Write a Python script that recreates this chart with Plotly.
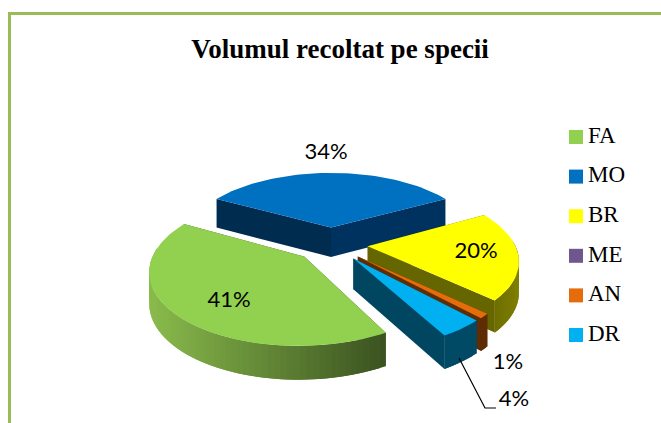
import math
import plotly.graph_objects as go

# ---- data ----
species = ["FA", "MO", "BR", "ME", "AN", "DR"]
shares = [41, 34, 20, 0, 1, 4]
title_text = "Volumul recoltat pe specii"

# ---- style ----
top_colors = {"FA": "#92D050", "MO": "#0070C0", "BR": "#FFFF00", "ME": "#70568F", "AN": "#E46C0A", "DR": "#00B0F0"}
arc_shades = {"FA": ("#3A5220", "#8ABB4C"), "MO": ("#003260", "#002C4F"), "BR": ("#7F7F00", "#666600"),
              "ME": ("#3A2A4B", "#3A2A4B"), "AN": ("#5E2D03", "#5E2D03"), "DR": ("#004A66", "#004A66")}
edge_shades = {"FA": "#3A5220", "MO": "#002C4F", "BR": "#666600", "ME": "#3A2A4B", "AN": "#5E2D03", "DR": "#004661"}
label_pos = {"MO": (326, 153), "BR": (476, 252), "FA": (229, 301), "AN": (508, 363), "DR": (514, 400)}
legend_x, legend_y0, legend_dy = 576, 137, 39.6
legend_text_x = 588

# projection of the pie
CX, CY, K, A, T, H, EXPL = 331, 244, 0.172, 147, 0.47, 0.205, 0.25
MO_CENTER = 0.0


def proj(x, y, depth=0.0):
    sa = A / (1 + K * y)
    return CX + x * sa, CY - T * y * sa + depth * math.sqrt(sa * A)


def lerp(c1, c2, f):
    a = [int(c1[i:i + 2], 16) for i in (1, 3, 5)]
    b = [int(c2[i:i + 2], 16) for i in (1, 3, 5)]
    return "#%02x%02x%02x" % tuple(round(p + (q - p) * f) for p, q in zip(a, b))


total = sum(shares)
start = MO_CENTER - 360 * shares[1] / total / 2 - 360 * shares[0] / total
spans = {}
ang = start
for name, v in zip(species, shares):
    sweep = 360 * v / total
    spans[name] = (ang, ang + sweep)
    ang += sweep

fig = go.Figure()


def poly(pts, color, lw=0.0):
    fig.add_trace(go.Scatter(x=[p[0] for p in pts] + [pts[0][0]], y=[p[1] for p in pts] + [pts[0][1]],
                             mode="lines", fill="toself", fillcolor=color,
                             line=dict(color=color, width=lw), hoverinfo="skip", showlegend=False))


for name in ["MO", "BR", "ME", "AN", "DR", "FA"]:
    a0, a1 = spans[name]
    if a1 - a0 <= 0:
        continue
    mid = math.radians((a0 + a1) / 2)
    ox, oy = EXPL * math.sin(mid), EXPL * math.cos(mid)
    n = max(4, int((a1 - a0) / 2))
    angles = [a0 + (a1 - a0) * i / n for i in range(n + 1)]
    rim = [(ox + math.sin(math.radians(t)), oy + math.cos(math.radians(t))) for t in angles]
    # radial walls
    for p in (rim[0], rim[-1]):
        color = edge_shades[name]
        if name == "MO" and p is rim[-1]:
            color = arc_shades["MO"][0]
        poly([proj(ox, oy), proj(*p), proj(*p, H), proj(ox, oy, H)], color)
    # outer wall, visible front strips only; each strip reaches over the next one to hide seams
    xs = [proj(*p)[0] for p in rim]
    xmin, xmax = min(xs), max(xs)
    strips = [i for i in range(n) if math.cos(math.radians((angles[i] + angles[i + 1]) / 2)) <= 0.1]
    for i in strips:
        f = (xmax - (xs[i] + xs[i + 1]) / 2) / max(xmax - xmin, 1)
        c = lerp(arc_shades[name][0], arc_shades[name][1], f)
        j = min(i + 2, n) if i + 1 in strips else i + 1
        seg = rim[i:j + 1]
        poly([proj(*q) for q in seg] + [proj(*q, H) for q in reversed(seg)], c)
    # top
    poly([proj(ox, oy)] + [proj(*p) for p in rim], top_colors[name])

# leader line for the DR label
fig.add_trace(go.Scatter(x=[459, 485, 496], y=[358, 408, 408], mode="lines",
                         line=dict(color="#000000", width=1.2), hoverinfo="skip", showlegend=False))

# percentage labels
lab = [n for n in species if n in label_pos]
fig.add_trace(go.Scatter(x=[label_pos[n][0] for n in lab], y=[label_pos[n][1] for n in lab], mode="text",
                         text=["%d%%" % shares[species.index(n)] for n in lab],
                         textfont=dict(family="Lato", size=22, color="#000000"),
                         hoverinfo="skip", showlegend=False))

# legend
ly = [legend_y0 + i * legend_dy for i in range(len(species))]
fig.add_trace(go.Scatter(x=[legend_x] * len(species), y=ly, mode="markers",
                         marker=dict(symbol="square", size=14, color=[top_colors[n] for n in species], line=dict(width=0)),
                         hoverinfo="skip", showlegend=False))
fig.add_trace(go.Scatter(x=[legend_text_x] * len(species), y=ly, mode="text",
                         text=species, textposition="middle right",
                         textfont=dict(family="Liberation Serif", size=23, color="#000000"),
                         hoverinfo="skip", showlegend=False))

fig.update_layout(
    width=661, height=423, margin=dict(l=0, r=0, t=0, b=0),
    paper_bgcolor="#FFFFFF", plot_bgcolor="#FFFFFF", showlegend=False,
    xaxis=dict(range=[0, 661], visible=False, fixedrange=True),
    yaxis=dict(range=[423, 0], visible=False, fixedrange=True),
    title=dict(text="<b>%s</b>" % title_text, x=340 / 661, y=1 - 49 / 423, xanchor="center", yanchor="middle",
               font=dict(family="Liberation Serif", size=27, color="#000000")),
    shapes=[dict(type="line", x0=9.5, x1=9.5, y0=13, y1=423, line=dict(color="#9BBB59", width=3)),
            dict(type="line", x0=8, x1=661, y0=13.5, y1=13.5, line=dict(color="#9BBB59", width=3))],
)
fig.write_html("out.html", config=dict(displayModeBar=False),
               post_script="document.body.style.margin='0';document.documentElement.style.overflow='hidden';")
